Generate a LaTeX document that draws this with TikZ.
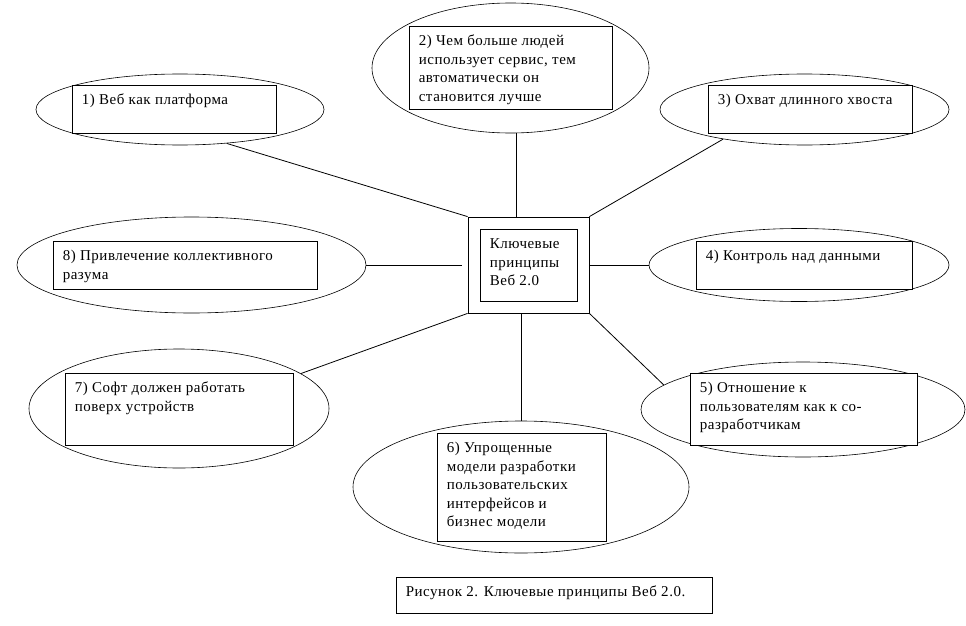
\documentclass[tikz,border=0pt]{standalone}
\usepackage{fontspec}
\setmainfont[LetterSpace=3.5]{Liberation Serif}
\usetikzlibrary{shapes.geometric}

\begin{document}
\begin{tikzpicture}[x=1pt,y=-1pt,
	oval/.style={draw,ellipse,line width=0.6pt,inner sep=0pt},
	box/.style={draw,rectangle,fill=white,line width=0.8pt,inner sep=0pt},
	txt/.style={anchor=north west,inner sep=0pt,align=left,xshift=10pt,yshift=-7pt,
		font=\fontsize{15}{18.5}\selectfont},
	link/.style={line width=0.8pt}]
				%%%%% START %%%%%
				\useasboundingbox (0,0) rectangle (966,626);
				
				\node[oval,minimum width=288,minimum height=71] (e1) at (180,109.5) {};
				\node[oval,minimum width=277,minimum height=130] (e2) at (510.5,68) {};
				\node[oval,minimum width=289,minimum height=71] (e3) at (804.5,109.5) {};
				\node[oval,minimum width=300,minimum height=73] (e4) at (799,265) {};
				\node[oval,minimum width=324,minimum height=95] (e5) at (803,409.5) {};
				\node[oval,minimum width=336,minimum height=132] (e6) at (521,487) {};
				\node[oval,minimum width=300,minimum height=119] (e7) at (179,408.5) {};
				\node[oval,minimum width=349,minimum height=96] (e8) at (191.5,265) {};
				
				\node[box,minimum width=204,minimum height=48] (b1) at (174,109) {};
				\node[box,minimum width=203,minimum height=83] (b2) at (510.5,67.5) {};
				\node[box,minimum width=204,minimum height=48] (b3) at (810,109) {};
				\node[box,minimum width=216,minimum height=48] (b4) at (804,265) {};
				\node[box,minimum width=227,minimum height=72] (b5) at (803.5,409) {};
				\node[box,minimum width=169,minimum height=108] (b6) at (521.5,487) {};
				\node[box,minimum width=228,minimum height=72] (b7) at (179,409) {};
				\node[box,minimum width=264,minimum height=48] (b8) at (185,265) {};
				
				\node[box,minimum width=121,minimum height=96] (c) at (528.5,265) {};
				\node[box,minimum width=97,minimum height=72] (ci) at (528.5,265) {};
				
				\node[txt] (t1) at (b1.north west) {\strut 1) Веб как платформа};
				\node[txt] (t2) at (b2.north west) {\strut 2) Чем больше людей\\использует сервис, тем\\автоматически он\\становится лучше};
				\node[txt] (t3) at (b3.north west) {\strut 3) Охват длинного хвоста};
				\node[txt] (t4) at (b4.north west) {\strut 4) Контроль над данными};
				\node[txt] (t5) at (b5.north west) {\strut 5) Отношение к\\пользователям как к со-\\разработчикам};
				\node[txt] (t6) at (b6.north west) {\strut 6) Упрощенные\\модели разработки\\пользовательских\\интерфейсов и\\бизнес модели};
				\node[txt] (t7) at (b7.north west) {\strut 7) Софт должен работать\\поверх устройств};
				\node[txt] (t8) at (b8.north west) {\strut 8) Привлечение коллективного\\разума};
				\node[txt] (tc) at (ci.north west) {\strut Ключевые\\принципы\\Веб 2.0};
				
				\draw[link] (e1.-36) -- (c.north west);
				\draw[link] (e2.-85) -- (e2.-85 |- c.north);
				\draw[link] (e3.200) -- (c.north east);
				\draw[link] (c.east) -- (e4.west);
				\draw[link] (c.south east) -- (e5.170);
				\draw[link] (c.south -| e6.north) -- (e6.north);
				\draw[link] (c.south west) -- (e7.16);
				\draw[link,shorten >=6pt] (e8.east) -- (c.west);
				
				\node[box,minimum width=316,minimum height=36] (cap) at (554,595) {};
				\node[txt] (tcap) at (cap.north west) {\strut Рисунок 2. Ключевые принципы Веб 2.0.};
				%%%%% END %%%%%
\end{tikzpicture}
\end{document}
